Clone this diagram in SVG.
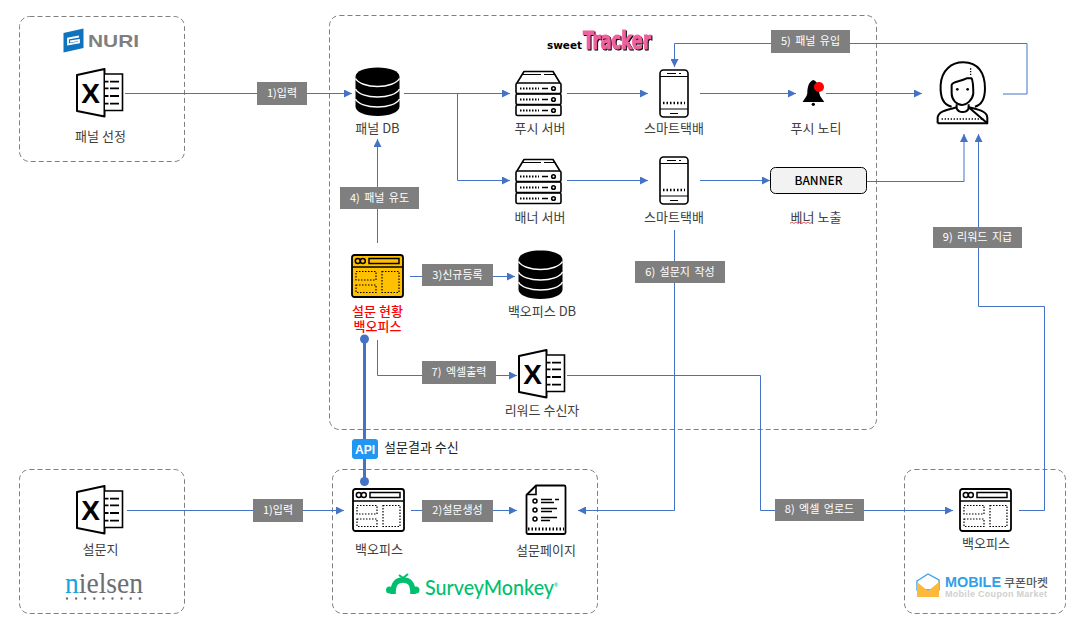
<svg xmlns="http://www.w3.org/2000/svg" width="1077" height="626" viewBox="0 0 1077 626">
<style>
text{font-family:"Noto Sans CJK KR","Noto Sans",sans-serif}
.zone{fill:none;stroke:#7f7f7f;stroke-width:1;stroke-dasharray:5 3}
.c{fill:none;stroke:#4472c4;stroke-width:1}
.ca{fill:none;stroke:#4472c4;stroke-width:1;marker-end:url(#arr)}
.api{fill:none;stroke:#4472c4;stroke-width:3}
.lab{fill:#7f7f7f}
.lt{fill:#fff;font-size:11px;text-anchor:middle;word-spacing:2px}
.t{fill:#404040;font-size:13px;text-anchor:middle}
.ic{fill:none;stroke:#000;stroke-width:1.6;stroke-linejoin:round}
.dot{fill:none;stroke:#000;stroke-width:1.2;stroke-dasharray:1.5 1.5}
</style>
<defs>
<marker id="arr" viewBox="0 0 8 8" refX="8" refY="4" markerWidth="8" markerHeight="8" markerUnits="userSpaceOnUse" orient="auto"><path d="M0,0L8,4L0,8Z" fill="#4472c4"/></marker>
<g id="excel">
<path d="M1,7L28.500,1V48.500L1,43Z" fill="#fff" stroke="#000" stroke-width="2" stroke-linejoin="round"/>
<path d="M29,6H46.500V42.500H29" fill="#fff" stroke="#000" stroke-width="1.600"/>
<path d="M29,13.700H32.500M34,13.700H43M29,20.300H32.500M34,20.300H43M29,28H32.500M34,28H43M29,35.700H32.500M34,35.700H43" stroke="#000" stroke-width="1.800"/>
<text x="14.500" y="35" font-size="28" font-weight="700" text-anchor="middle" style="font-family:'Liberation Sans',sans-serif">X</text>
</g>
<g id="db">
<path d="M.5,10C.5,4 10,.5 22.500,.5S44.500,4 44.500,10V39.500C44.500,45 35,49 22.500,49S.5,45 .5,39.500Z" fill="#000"/>
<path d="M.5,11.500C3,16 12,19.500 22.500,19.500S42,16 44.500,11.500M.5,22C3,27 12,30 22.500,30S42,27 44.500,22M.5,32C3,37 12,40 22.500,40S42,37 44.500,32" fill="none" stroke="#fff" stroke-width="1.500"/>
</g>
<g id="server" class="ic">
<path d="M2,13L9,1.500H38L45,13"/><path d="M8,4.500H26M29,4.500H39" stroke-width="1"/>
<rect x="1" y="13" width="45" height="10.500" rx="1.500"/><rect x="1" y="24" width="45" height="10.500" rx="1.500"/><rect x="1" y="35" width="45" height="10.500" rx="1.500"/>
<path d="M5,18.500H24M5,29.500H24M5,40.500H24" stroke-width="2" stroke-dasharray="1.500 1.500"/>
<path d="M27,18.500H33M27,29.500H33M27,40.500H33"/>
<circle cx="38.500" cy="18.500" r="1.800"/><circle cx="38.500" cy="29.500" r="1.800"/><circle cx="38.500" cy="40.500" r="1.800"/>
</g>
<g id="phone" class="ic">
<rect x="1" y="1" width="28" height="47" rx="3.500"/>
<path d="M1,7.500H29M1,40H29" stroke-width="1.200"/>
<path d="M8,4.500H17M20,4.500H22M11,44.500H19" stroke-width="1"/>
<path d="M4,34H26" stroke-width="2.500" stroke-dasharray="1.500 2"/>
</g>
<g id="browser">
<rect x="1" y="1" width="51" height="42" rx="2.500" stroke="#000" stroke-width="1.800"/>
<path d="M1,13H52" stroke="#000" stroke-width="1.600" fill="none"/>
<g fill="none" stroke="#000" stroke-width="1.500"><circle cx="6.800" cy="7" r="2.500"/><circle cx="11.800" cy="7" r="2.500"/><rect x="18" y="4.500" width="30" height="5"/></g>
<g class="dot"><path d="M5,17.500H25V26H5ZM5,31H25V38.500H5ZM31,17.500H48V38.500H31Z"/></g>
</g>
</defs>
<rect width="1077" height="626" fill="#fff"/>

<g id="zones">
<rect class="zone" x="19.500" y="16.500" width="165" height="145" rx="10"/>
<rect class="zone" x="329.500" y="15.500" width="547" height="414" rx="10"/>
<rect class="zone" x="19.500" y="469.500" width="165" height="144" rx="10"/>
<rect class="zone" x="332.500" y="469.500" width="265" height="144" rx="10"/>
<rect class="zone" x="904.500" y="469.500" width="161" height="144" rx="10"/>
</g>

<g id="connectors">
<path class="ca" d="M125,93.500H352"/>
<path class="ca" d="M404,93.500H510"/>
<path class="ca" d="M457.500,93.500V180.500H510"/>
<path class="ca" d="M567,93.500H648"/>
<path class="ca" d="M567,180.500H648"/>
<path class="ca" d="M700,93.500H796"/>
<path class="ca" d="M826,93.500H922"/>
<path class="ca" d="M700,180.500H770"/>
<path class="ca" d="M866,181.500H964V134"/>
<path class="ca" d="M1003,94H1027V43.500H674.500V67"/>
<path class="ca" d="M377.500,243V139"/>
<path class="ca" d="M410,276.500H515"/>
<path class="ca" d="M377.500,340V375.500H517"/>
<path class="ca" d="M567,375.500H760.500V510.500H953"/>
<path class="ca" d="M1019,510.500H1044.500V306.500H978.500V134"/>
<path class="ca" d="M674.500,230V510.500H578"/>
<path class="ca" d="M127,510.500H344"/>
<path class="ca" d="M411,510.500H517"/>
<path class="api" d="M364.500,339V481"/>
<circle cx="364.500" cy="339" r="4.500" fill="#4472c4"/>
<circle cx="364.500" cy="481.500" r="4.500" fill="#4472c4"/>
</g>

<g id="connector-labels">
<rect class="lab" x="257" y="82" width="50" height="23"/><text class="lt" x="282" y="97">1)입력</text>
<rect class="lab" x="771" y="30" width="79" height="23"/><text class="lt" x="810.500" y="45">5) 패널 유입</text>
<rect class="lab" x="340" y="187" width="79" height="22"/><text class="lt" x="379.500" y="202">4) 패널 유도</text>
<rect class="lab" x="422" y="264" width="71" height="22"/><text class="lt" x="457.500" y="279">3)신규등록</text>
<rect class="lab" x="422" y="361" width="74" height="23"/><text class="lt" x="459" y="376">7) 엑셀출력</text>
<rect class="lab" x="635" y="261" width="90" height="22"/><text class="lt" x="680" y="276">6) 설문지 작성</text>
<rect class="lab" x="933" y="227" width="89" height="21"/><text class="lt" x="977.500" y="241">9) 리워드 지급</text>
<rect class="lab" x="253" y="499" width="50" height="23"/><text class="lt" x="278" y="514">1)입력</text>
<rect class="lab" x="422" y="500" width="71" height="22"/><text class="lt" x="457.500" y="514">2)설문생성</text>
<rect class="lab" x="775" y="499" width="89" height="22"/><text class="lt" x="819.500" y="513">8) 엑셀 업로드</text>
</g>

<g id="node-nuri-excel">
<path d="M63.500,33L83.500,28.500V48L63.500,52.500Z" fill="#0f73bd"/>
<path d="M79,36.500L68,38.500V44.500L79,42.500V40L70,41.500" fill="none" stroke="#fff" stroke-width="1.800"/>
<text x="88" y="46.500" font-size="17" font-weight="700" fill="#7f7f7f" textLength="51" lengthAdjust="spacingAndGlyphs" style="font-family:'Liberation Sans',sans-serif">NURI</text>
<use href="#excel" x="76" y="68"/>
<text class="t" x="100.500" y="141">패널 선정</text>
</g>
<g id="node-panel-db"><use href="#db" x="355" y="67"/><text class="t" x="377.500" y="133">패널 DB</text></g>
<g id="node-sweettracker-logo">
<text x="547" y="49" font-size="11" font-weight="700" fill="#000" textLength="35" lengthAdjust="spacingAndGlyphs" style="font-family:'DejaVu Sans',sans-serif">sweet</text>
<text x="583" y="49" font-size="24" font-weight="700" fill="#f0609e" stroke="#f0609e" stroke-width="1" textLength="68" lengthAdjust="spacingAndGlyphs" style="font-family:'DejaVu Sans',sans-serif;filter:drop-shadow(1px 1.500px 0 #000)">Tracker</text>
</g>
<g id="node-push-server"><use href="#server" x="515" y="70"/><text class="t" x="540" y="133">푸시 서버</text></g>
<g id="node-banner-server"><use href="#server" x="515" y="158"/><text class="t" x="540" y="222">배너 서버</text></g>
<g id="node-phone-1"><use href="#phone" x="659" y="69"/><text class="t" x="674" y="133">스마트택배</text></g>
<g id="node-phone-2"><use href="#phone" x="659" y="156"/><text class="t" x="674" y="222">스마트택배</text></g>
<g id="node-push-noti">
<g transform="translate(680 10) scale(.3333)">
<path d="M400,210C386,215 382,232 382,250C380,262 372,268 368,276H433C428,268 420,262 418,250C418,232 414,215 400,210Z" fill="#000"/>
<circle cx="400" cy="283" r="5" fill="#000"/>
<circle cx="417" cy="231" r="15" fill="#f00"/>
</g>
<text class="t" x="816" y="133">푸시 노티</text>
</g>
<g id="node-banner">
<rect x="770.500" y="167.500" width="96" height="26" rx="5" fill="#f2f2f2" stroke="#000" stroke-width="1"/>
<text x="818.500" y="185" font-size="12" text-anchor="middle" font-weight="500" fill="#000">BANNER</text>
<text class="t" x="816" y="222">베너 노출</text>
<path d="M790,223.500l2,-1.500 2,1.500 2,-1.500 2,1.500 2,-1.500 2,1.500 2,-1.500 2,1.500 2,-1.500 2,1.500 2,-1.500" fill="none" stroke="#e03030" stroke-width=".8"/>
</g>
<g id="node-user">
<g transform="translate(680 10) scale(.3333)" fill="none" stroke="#000" stroke-width="6" stroke-linejoin="round">
<path d="M815,290C790,285 780,265 782,225C785,180 815,157 850,157C895,157 915,190 915,235C915,265 905,285 885,290"/>
<path d="M815,225C815,215 840,215 860,205L875,205C880,215 880,240 880,250C878,270 860,285 847,285C830,285 815,270 815,250Z" fill="#fff"/>
<circle cx="832" cy="238" r="4" fill="#000" stroke="none"/><circle cx="863" cy="238" r="4" fill="#000" stroke="none"/>
<path d="M830,283V295C836,310 860,310 866,295V283"/>
<path d="M773,340V322C776,302 810,298 830,292M866,292C890,298 920,302 922,322V340Z"/>
<path d="M773,340H922"/>
<path d="M785,327H912" stroke-width="4" stroke-dasharray="4 5"/>
<path d="M872,175V197" stroke-width="4" stroke-dasharray="4 4"/>
</g>
</g>
<g id="node-survey-backoffice">
<use href="#browser" x="351" y="254" fill="#ffc000"/>
<text x="377.500" y="316" font-size="13" text-anchor="middle" fill="#f00" font-weight="500">설문 현황<tspan x="377.500" dy="15">백오피스</tspan></text>
</g>
<g id="node-backoffice-db"><use href="#db" x="518" y="250"/><text class="t" x="542" y="316">백오피스 DB</text></g>
<g id="node-reward-excel"><use href="#excel" x="518" y="349"/><text class="t" x="542" y="415">리워드 수신자</text></g>
<g id="node-api">
<rect x="352" y="439" width="26" height="20" rx="3" fill="#2196f3"/>
<text x="365" y="454" font-size="12" font-weight="700" fill="#fff" text-anchor="middle" style="font-family:'Liberation Sans',sans-serif">API</text>
<text x="384" y="452" font-size="13" fill="#222">설문결과 수신</text>
</g>
<g id="node-survey-excel">
<use href="#excel" x="76" y="485"/>
<text class="t" x="100.500" y="554">설문지</text>
<text x="65" y="593" font-size="30" fill="#6d6e71" textLength="78" lengthAdjust="spacingAndGlyphs" style="font-family:'Liberation Serif',serif"><tspan fill="#1aa3dc">n</tspan>ielsen</text>
<path d="M67,598.500H143" stroke="#6d6e71" stroke-width="2.400" stroke-linecap="round" stroke-dasharray="0 9.100"/>
</g>
<g id="node-backoffice">
<use href="#browser" x="352" y="488" fill="#fff"/>
<text class="t" x="379" y="554">백오피스</text>
</g>
<g id="node-survey-page">
<path d="M10.500,1H38.500A1.500,1.500 0 0 1 40,2.500V48A1.500,1.500 0 0 1 38.500,49.500H2.500A1.500,1.500 0 0 1 1,48V10.500Z" transform="translate(525.500 484.500)" fill="#fff" stroke="#000" stroke-width="1.800" stroke-linejoin="round"/>
<path d="M536,485V494.500H526.500" fill="none" stroke="#000" stroke-width="1.600"/>
<g fill="none" stroke="#000" stroke-width="1.500"><circle cx="535" cy="501" r="2"/><circle cx="535" cy="510" r="2"/><circle cx="535" cy="519" r="2"/>
<path d="M541,499.500H552M555,499.500H559M541,502.500H554M541,508.500H557M541,511.500H552M541,517.500H557M541,520.500H550"/></g>
<path d="M528,529H564" stroke="#000" stroke-width="3" stroke-dasharray="1.500 2"/>
<text class="t" x="546" y="555">설문페이지</text>
</g>
<g id="node-surveymonkey-logo">
<path d="M393,594C393,583 397,580 403,580C409,580 413,583 413,594" fill="none" stroke="#00bf6f" stroke-width="5.500"/>
<path d="M399,575L403,578L408,574" fill="none" stroke="#00bf6f" stroke-width="2"/>
<circle cx="389.500" cy="590" r="3.500" fill="#00bf6f"/><circle cx="416" cy="590" r="3.500" fill="#00bf6f"/>
<text x="425" y="595" font-size="20.500" fill="#00bf6f" textLength="133" lengthAdjust="spacingAndGlyphs" style="font-family:'Lato',sans-serif;font-weight:500">SurveyMonkey<tspan font-size="5" dy="-8">®</tspan></text>
</g>
<g id="node-coupon-backoffice">
<use href="#browser" x="959" y="488" fill="#fff"/>
<text class="t" x="986" y="548">백오피스</text>
</g>
<g id="node-coupon-logo">
<path d="M917,581L928,574L939,580V590H917Z" fill="#fff" stroke="#3aa5e6" stroke-width="1.400"/>
<path d="M917,582L928,591L939,582V597H917Z" fill="#fdb93c"/>
<text x="945" y="587" font-size="14" font-weight="700" fill="#2f9fe8" textLength="56" lengthAdjust="spacingAndGlyphs" style="font-family:'Liberation Sans',sans-serif">MOBILE</text>
<text x="1004" y="587" font-size="11" font-weight="500" fill="#595959" textLength="44" lengthAdjust="spacingAndGlyphs">쿠폰마켓</text>
<text x="945" y="597" font-size="9" font-weight="700" fill="#d0d0d0" textLength="102" style="font-family:'Liberation Sans',sans-serif">Mobile Coupon Market</text>
</g>
</svg>
